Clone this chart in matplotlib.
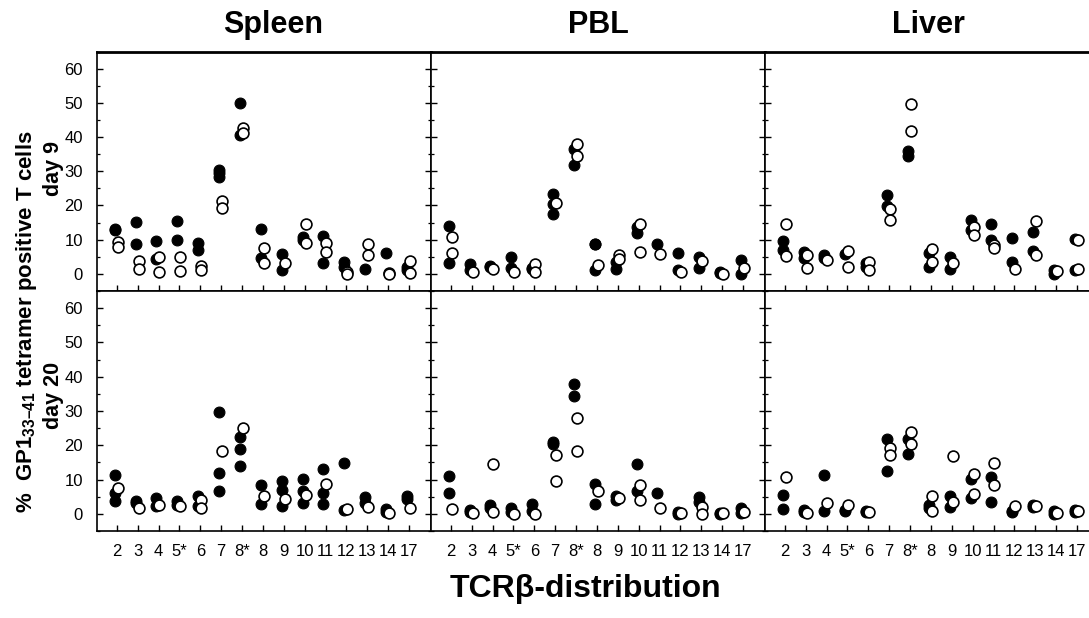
import matplotlib
matplotlib.use('Agg')
import matplotlib.pyplot as plt
from matplotlib import font_manager
from matplotlib.ticker import MultipleLocator

names = {f.name for f in font_manager.fontManager.ttflist}
NARROW = 'Liberation Sans Narrow' if 'Liberation Sans Narrow' in names else 'Liberation Sans'
plt.rcParams['font.family'] = ['Liberation Sans', 'DejaVu Sans']
plt.rcParams['mathtext.fontset'] = 'custom'
plt.rcParams['mathtext.rm'] = 'Liberation Sans:bold'
plt.rcParams['mathtext.it'] = 'Liberation Sans:bold'
plt.rcParams['mathtext.bf'] = 'Liberation Sans:bold'

categories = ['2', '3', '4', '5*', '6', '7', '8*', '8', '9', '10', '11', '12', '13', '14', '17']
tissues = ['Spleen', 'PBL', 'Liver']

# day 9 (top row)
spleen_d9_filled = [[13.2, 12.8], [15.3, 8.6], [9.5, 4.4], [15.6, 9.8], [9.1, 7.0], [30.4, 29.5, 28.3],
                    [50.0, 40.5], [13.2, 4.6], [5.9, 1.0], [10.9, 10.0], [11.2, 3.1], [3.4, 2.0], [1.5],
                    [6.1], [2.0, 1.0]]
spleen_d9_open = [[9.3, 7.8], [3.7, 1.5], [4.9, 0.5], [4.9, 0.8], [2.4, 1.0], [21.3, 19.2], [42.6, 41.2],
                  [7.6, 3.1], [3.1], [14.6, 9.0], [9.0, 6.3], [0.5, 0.0], [8.6, 5.4], [0.3, 0.0], [3.7, 0.2]]
pbl_d9_filled = [[14.0, 3.2], [2.9, 1.0], [2.4, 2.0], [4.9, 1.8], [1.8, 1.3], [23.4, 20.5, 17.6],
                 [36.6, 31.7], [8.8, 8.6, 1.0], [3.4, 1.5], [13.7, 11.9], [8.8], [6.1, 1.0], [4.9, 1.8],
                 [0.5, 0.2], [4.2, 0.0]]
pbl_d9_open = [[10.9, 6.1], [0.5], [1.5], [0.5], [2.9, 0.5], [20.7], [38.0, 34.4], [2.7], [5.4, 4.4],
               [14.6, 6.5], [5.9], [0.5], [3.7], [0.0], [1.7]]
liver_d9_filled = [[9.7, 7.0], [6.5, 4.6], [5.6, 4.6], [5.8], [3.1, 2.1], [23.1, 19.9], [36.0, 34.5],
                   [6.0, 2.1], [4.8, 1.4], [15.8, 12.7], [14.5, 10.0], [10.6, 3.4], [12.1, 6.7],
                   [1.2, 0.0], [10.2, 1.2]]
liver_d9_open = [[14.6, 5.1], [5.6, 1.7], [4.1], [6.7, 2.1], [3.6, 1.2], [19.0, 15.8], [49.8, 41.7],
                 [7.2, 3.4], [3.3], [13.7, 11.4], [8.5, 7.5], [1.5], [15.5, 5.4], [0.7], [9.8, 1.4]]

# day 20 (bottom row)
spleen_d20_filled = [[11.3, 6.1, 3.7], [3.7, 3.2], [4.7, 2.2], [3.7, 2.7], [5.1, 2.2], [29.6, 11.9, 6.6],
                     [22.4, 18.9, 13.9], [8.3, 2.9], [9.5, 7.1, 2.2], [10.2, 6.8, 3.2], [13.1, 6.1, 3.0],
                     [14.9, 1.0], [4.9, 3.2], [1.3, 0.6], [5.1, 4.2]]
spleen_d20_open = [[7.4], [1.6], [2.5], [2.4], [3.9, 1.6], [18.3], [25.0], [5.3], [4.2], [5.6], [8.7],
                   [1.3], [1.9], [0.3], [1.6]]
pbl_d20_filled = [[11.0, 6.1], [1.1, 0.6], [2.7, 1.6], [1.7, 0.6], [3.0, 0.8], [21.0, 20.5], [37.9, 34.5],
                  [8.8, 3.0], [5.3, 3.9], [14.6, 6.6], [6.1], [0.5, 0.1], [5.0, 3.5], [0.3, 0.1], [1.6, 0.3]]
pbl_d20_open = [[1.3], [0.3], [14.4, 0.5], [0.1], [0.1], [17.3, 9.7], [28.0, 18.4], [6.6], [4.7],
                [8.5, 3.9], [1.6], [0.3], [2.0, 0.0], [0.2], [0.6]]
liver_d20_filled = [[5.4, 1.3], [1.1, 0.5], [11.3, 0.8], [1.1, 0.8], [0.8, 0.6], [21.9, 12.4], [21.7, 17.6],
                    [2.5, 1.6], [5.1, 1.9], [10.3, 4.7], [10.7, 3.5], [0.8, 0.6], [2.7, 1.9], [0.8, 0.1],
                    [1.0, 0.6]]
liver_d20_open = [[10.8], [0.3], [3.2], [2.5], [0.6], [19.2, 17.3], [23.8, 20.5], [5.1, 0.8], [16.8, 3.5],
                  [11.7, 5.8], [14.7, 8.5], [2.2], [2.3], [0.3], [0.8]]

panels = [
    [(spleen_d9_filled, spleen_d9_open), (pbl_d9_filled, pbl_d9_open), (liver_d9_filled, liver_d9_open)],
    [(spleen_d20_filled, spleen_d20_open), (pbl_d20_filled, pbl_d20_open), (liver_d20_filled, liver_d20_open)],
]

W, H = 1089, 618
fig = plt.figure(figsize=(W / 100, H / 100), dpi=100)
lefts = [97, 431, 765]
pw = 334
rows = [(51.5, 291), (291, 531)]

for r, (ytop, ybot) in enumerate(rows):
    for c in range(3):
        ax = fig.add_axes([lefts[c] / W, 1 - ybot / H, pw / W, (ybot - ytop) / H])
        filled, opened = panels[r][c]
        for i, vals in enumerate(filled):
            ax.plot([i - 0.1] * len(vals), vals, 'o', ms=7.8, mfc='black', mec='black', mew=0.8,
                    zorder=3, clip_on=False)
        for i, vals in enumerate(opened):
            ax.plot([i + 0.04] * len(vals), vals, 'o', ms=7.8, mfc='white', mec='black', mew=1.2,
                    zorder=4, clip_on=False)
        ax.set_xlim(-0.95, 15.05)
        ax.set_ylim(-5, 65)
        ax.set_xticks(range(len(categories)))
        ax.yaxis.set_major_locator(MultipleLocator(10))
        ax.yaxis.set_minor_locator(MultipleLocator(5))
        ax.set_yticks(range(0, 61, 10))
        ax.tick_params(axis='y', which='major', direction='in', left=True, right=True, length=4.5,
                       width=1.0, labelsize=12, pad=10)
        ax.tick_params(axis='y', which='minor', direction='in', left=True, right=True, length=2.5, width=0.9)
        ax.tick_params(axis='x', which='major', direction='in', bottom=True, top=False, length=4.5,
                       width=1.0, labelsize=12, pad=9)
        if r == 1:
            ax.set_xticklabels(categories)
        else:
            ax.set_xticklabels([])
        if c != 0:
            ax.set_yticklabels([])
        for s in ax.spines.values():
            s.set_linewidth(1.2)
        if r == 0:
            ax.spines['top'].set_linewidth(2.0)

title_x = [273, 598, 928]
for t, x in zip(tissues, title_x):
    fig.text(x / W, 1 - 25 / H, t, ha='center', va='center', fontsize=22, fontweight='bold',
             family=[NARROW, 'Liberation Sans'])

fig.text(27 / W, 1 - 322 / H, r'%  GP1$_{\mathrm{33–41}}$ tetramer positive T cells', rotation=90,
         ha='center', va='center', fontsize=16, fontweight='bold')
fig.text(54 / W, 1 - 168 / H, 'day 9', rotation=90, ha='center', va='center', fontsize=15.5,
         fontweight='bold')
fig.text(54 / W, 1 - 395 / H, 'day 20', rotation=90, ha='center', va='center', fontsize=15.5,
         fontweight='bold')
fig.text(585 / W, 1 - 589 / H, 'TCRβ-distribution', ha='center', va='center', fontsize=23,
         fontweight='bold', family=[NARROW, 'Liberation Sans', 'DejaVu Sans'])

fig.savefig('out.png', dpi=100)
